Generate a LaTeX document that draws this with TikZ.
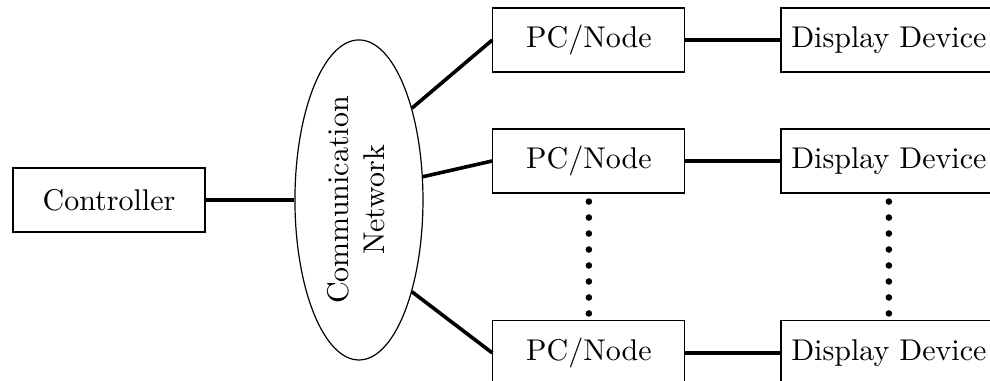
\documentclass[tikz,border=0pt]{standalone}
\usetikzlibrary{positioning, shapes.geometric}

\begin{document}
\begin{tikzpicture}[
    box/.style={draw, minimum height=0.75cm, minimum width=2.25cm},
    link/.style={very thick},
    dotsline/.style={line width=2.2pt, line cap=round, dash pattern=on 0pt off 5.33pt, dash phase=2.67pt}]
    \useasboundingbox (0,0) rectangle (11.6,-4.463);

    % controller
    \node[box] (ctrl) at (1.277,-2.343) {Controller};

    % network
    \node[draw, ellipse, inner sep=0pt, minimum width=1.5cm, minimum height=3.75cm] (net) at (4.206,-2.343)
        {\rotatebox{90}{\begin{tabular}{@{}c@{}}Communication\\Network\end{tabular}}};

    % PC/Node column
    \node[box] (pc1) at (6.9,-0.469) {PC/Node};
    \node[box] (pc2) at (6.9,-1.886) {PC/Node};
    \node[box] (pc3) at (6.9,-4.135) {PC/Node};

    % display column
    \node[box, minimum width=2.53cm] (dd1) at (10.415,-0.469) {Display Device};
    \node[box, minimum width=2.53cm] (dd2) at (10.415,-1.886) {Display Device};
    \node[box, minimum width=2.53cm] (dd3) at (10.415,-4.135) {Display Device};

    % links
    \draw[link] (ctrl) -- (net);
    \draw[link] (net.60) -- (pc1.west);
    \draw[link] (net.20) -- (pc2.west);
    \draw[link] (net.-60) -- (pc3.west);
    \draw[link] (pc1) -- (dd1);
    \draw[link] (pc2) -- (dd2);
    \draw[link] (pc3) -- (dd3);

    % more nodes
    \draw[dotsline] (pc2.south) -- (pc3.north);
    \draw[dotsline] (dd2.south) -- (dd3.north);
\end{tikzpicture}
\end{document}
